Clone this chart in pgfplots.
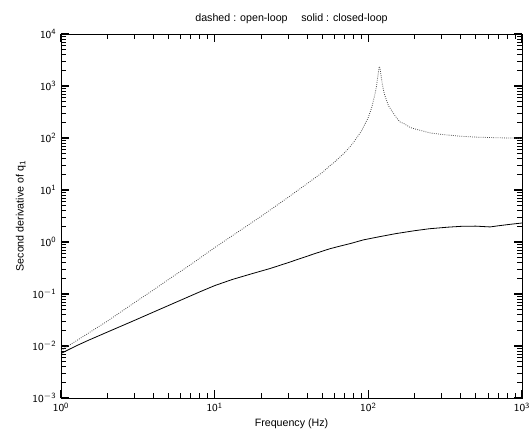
\documentclass[border=0pt]{standalone}
\usepackage{fontspec}
\setmainfont{Liberation Sans}
\usepackage{pgfplots}
\pgfplotsset{compat=1.18}

\begin{document}
\begin{tikzpicture}
% page frame: 530 x 447 px (0.75pt per px), axis box from (61,34) to (522,398) px
\path[use as bounding box] (-45.75pt,-36.75pt) rectangle (351.75pt,298.5pt);
\begin{axis}[
    at={(0pt,0pt)}, anchor=south west,
    scale only axis,
    width=345.75pt, height=273pt,
    xmode=log, ymode=log,
    log basis x=10, log basis y=10,
    xmin=1, xmax=1000,
    ymin=1e-3, ymax=1e4,
    xtick={1,10,100,1000},
    ytick={1e-3,1e-2,1e-1,1,10,100,1000,1e4},
    minor xtick={2,3,4,5,6,7,8,9,20,30,40,50,60,70,80,90,200,300,400,500,600,700,800,900},
    minor ytick={2e-3,3e-3,4e-3,5e-3,6e-3,7e-3,8e-3,9e-3,
                 2e-2,3e-2,4e-2,5e-2,6e-2,7e-2,8e-2,9e-2,
                 0.2,0.3,0.4,0.5,0.6,0.7,0.8,0.9,
                 2,3,4,5,6,7,8,9,20,30,40,50,60,70,80,90,
                 200,300,400,500,600,700,800,900,
                 2000,3000,4000,5000,6000,7000,8000,9000},
    xticklabel={$\mathsf{10^{\pgfmathprintnumber{\tick}}}$},
    yticklabel={$\mathsf{10^{\pgfmathprintnumber{\tick}}}$},
    xtick align=inside, ytick align=inside,
    xtick pos=both, ytick pos=both,
    major tick length=6pt, minor tick length=3.5pt,
    every major tick/.append style={black, line width=0.8pt},
    every minor tick/.append style={black, line width=0.6pt},
    axis line style={black, thin},
    ticklabel style={font=\fontsize{8}{9}\selectfont},
    label style={font=\fontsize{8}{9}\selectfont},
    title style={font=\fontsize{8}{9}\selectfont, yshift=-2pt},
    title={dashed : open-loop \quad solid : closed-loop},
    xlabel={Frequency (Hz)},
    ylabel={Second derivative of q\textsubscript{1}},
    xlabel style={yshift=2pt},
    ylabel style={yshift=-2pt},
    clip=true,
]
% open-loop (dotted)
\addplot[black!70, densely dotted, semithick] coordinates {
    (1, 0.0082) (1.5, 0.0175) (2, 0.030) (3, 0.068) (4, 0.12) (5, 0.19)
    (7, 0.37) (10, 0.78) (15, 1.75) (20, 3.1) (30, 7.2) (40, 13.3)
    (50, 21.5) (56, 29) (60, 34) (70, 52) (76, 68) (80, 82) (90, 135)
    (93, 162) (100, 250) (102, 296) (105, 380) (110, 660) (113, 990)
    (115, 1450) (117, 2150) (118, 2380) (119, 2200) (120, 1880)
    (123, 1120) (127, 710) (135, 420) (150, 262) (160, 205) (170, 190)
    (187, 160) (200, 150) (250, 126) (300, 117) (400, 108) (500, 104)
    (700, 101) (1000, 99)
};
% closed-loop (solid)
\addplot[black, solid, semithick] coordinates {
    (1, 0.0072) (1.25, 0.0100) (1.5, 0.0128) (2, 0.0185) (3, 0.031)
    (4, 0.045) (5, 0.060) (6.25, 0.080) (8, 0.110) (10, 0.145)
    (13, 0.19) (17, 0.24) (23, 0.31) (30, 0.40) (36, 0.48) (45, 0.60)
    (56, 0.74) (66, 0.84) (76, 0.93) (93, 1.1) (119, 1.27) (151, 1.45)
    (200, 1.65) (250, 1.8) (330, 1.93) (400, 2.0) (500, 2.02)
    (620, 1.95) (700, 2.05) (850, 2.2) (1000, 2.32)
};
\end{axis}
\end{tikzpicture}
\end{document}
